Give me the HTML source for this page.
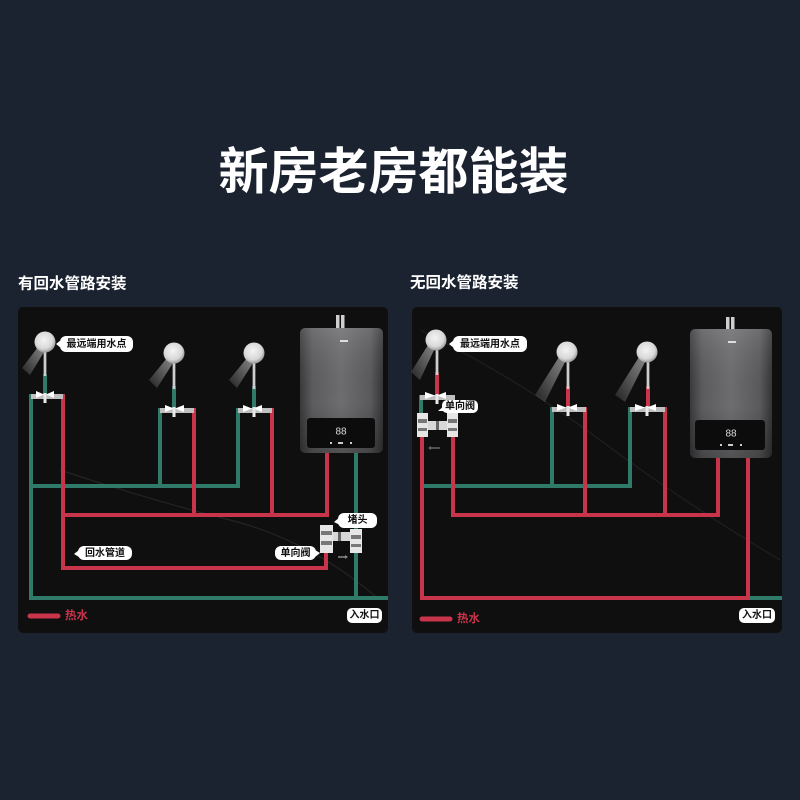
<!DOCTYPE html>
<html><head><meta charset="utf-8"><style>
html,body{margin:0;padding:0;background:#1b2230;}
svg{display:block;}
text{font-family:"Liberation Sans","Noto Sans CJK SC",sans-serif;}
</style></head><body>
<svg width="800" height="800" viewBox="0 0 800 800" xmlns="http://www.w3.org/2000/svg">
<defs>
<linearGradient id="hb" x1="0" y1="0" x2="1" y2="0">
<stop offset="0" stop-color="#3a3a3c"/><stop offset="0.15" stop-color="#5c5c5e"/><stop offset="0.5" stop-color="#6e6e70"/><stop offset="0.85" stop-color="#5a5a5c"/><stop offset="1" stop-color="#353537"/>
</linearGradient>
<linearGradient id="hv" x1="0" y1="0" x2="0" y2="1">
<stop offset="0" stop-color="#fff" stop-opacity="0.12"/><stop offset="0.6" stop-color="#000" stop-opacity="0"/><stop offset="1" stop-color="#000" stop-opacity="0.25"/>
</linearGradient>
<radialGradient id="sh" cx="0.45" cy="0.4" r="0.6">
<stop offset="0" stop-color="#f4f4f4"/><stop offset="0.7" stop-color="#d8d8d8"/><stop offset="1" stop-color="#9a9a9a"/>
</radialGradient>
<linearGradient id="sp" x1="1" y1="0" x2="0" y2="1">
<stop offset="0" stop-color="#ffffff" stop-opacity="0.9"/><stop offset="1" stop-color="#ffffff" stop-opacity="0.15"/>
</linearGradient>
<linearGradient id="ms" x1="0" y1="0" x2="1" y2="0">
<stop offset="0" stop-color="#8a8a8a"/><stop offset="0.5" stop-color="#f0f0f0"/><stop offset="1" stop-color="#8a8a8a"/>
</linearGradient>
</defs>

<rect width="800" height="800" fill="#1b2230"/>
<text x="393.5" y="172" font-size="50" font-weight="bold" fill="#fff" text-anchor="middle" dominant-baseline="central">新房老房都能装</text>

<text x="18" y="284" font-size="15.5" font-weight="bold" fill="#fff" dominant-baseline="central">有回水管路安装</text>
<text x="410" y="283" font-size="15.5" font-weight="bold" fill="#fff" dominant-baseline="central">无回水管路安装</text>

<!-- panels -->
<rect x="18" y="307" width="370" height="326" rx="5" fill="#0f0f10"/>
<rect x="412" y="307" width="370" height="326" rx="5" fill="#0f0f10"/>
<path d="M60 470 Q150 500 230 520 T380 600" stroke="#232325" stroke-width="1.2" fill="none"/>
<path d="M420 330 Q520 380 600 440 T780 560" stroke="#1f1f21" stroke-width="1.2" fill="none"/>

<!-- ===== LEFT PANEL PIPES ===== -->
<g fill="none" stroke-width="4" stroke-linecap="square">
<g stroke="#2f7a68">
<path d="M31 396 V598 H386"/>
<path d="M31 486 H238"/>
<path d="M160 410 V486"/>
<path d="M238 410 V486"/>
<path d="M356 452 V598"/>
<path d="M45 376 V396"/>
<path d="M174 388 V410"/>
<path d="M254 388 V410"/>
</g>
<g stroke="#c8354b">
<path d="M63 396 V568 H326 V552"/>
<path d="M63 515 H327 V454"/>
<path d="M194 410 V515"/>
<path d="M272 410 V515"/>
</g>
</g>

<!-- ===== RIGHT PANEL PIPES ===== -->
<g fill="none" stroke-width="4" stroke-linecap="square">
<g stroke="#2f7a68">
<path d="M421 397 V413"/>
<path d="M423 486 H630"/>
<path d="M552 409 V486"/>
<path d="M630 409 V486"/>
<path d="M750 598 H780"/>
</g>
<g stroke="#c8354b">
<path d="M437 374 V397"/>
<path d="M568 388 V409"/>
<path d="M648 388 V409"/>
<path d="M453 397 V413"/>
<path d="M422 437 V598 H748 V460"/>
<path d="M453 437 V515 H718 V460"/>
<path d="M585 409 V515"/>
<path d="M665 409 V515"/>
</g>
</g>

<!-- valves -->
<g>
<g>
<rect x="31" y="394" width="32" height="5" fill="#bfbfbf"/>
<path d="M36 391 L44 394.5 L36 398 Z M54 391 L46 394.5 L54 398 Z" fill="#fff"/>
<rect x="43.5" y="393" width="3" height="10" fill="#e8e8e8"/>
</g>
<g>
<rect x="160" y="408" width="34" height="5" fill="#bfbfbf"/>
<path d="M165 405 L174 408.5 L165 412 Z M184 405 L175 408.5 L184 412 Z" fill="#fff"/>
<rect x="172.5" y="407" width="3" height="10" fill="#e8e8e8"/>
</g>
<g>
<rect x="238" y="408" width="34" height="5" fill="#bfbfbf"/>
<path d="M243 405 L252 408.5 L243 412 Z M262 405 L253 408.5 L262 412 Z" fill="#fff"/>
<rect x="252.5" y="407" width="3" height="10" fill="#e8e8e8"/>
</g>
<g>
<rect x="420" y="395" width="35" height="5" fill="#bfbfbf"/>
<path d="M425 392 L435 395.5 L425 399 Z M446 392 L437 395.5 L446 399 Z" fill="#fff"/>
<rect x="435.5" y="394" width="3" height="10" fill="#e8e8e8"/>
</g>
<g>
<rect x="552" y="407" width="34" height="5" fill="#bfbfbf"/>
<path d="M557 404 L566 407.5 L557 411 Z M577 404 L568 407.5 L577 411 Z" fill="#fff"/>
<rect x="566.5" y="406" width="3" height="10" fill="#e8e8e8"/>
</g>
<g>
<rect x="630" y="407" width="35" height="5" fill="#bfbfbf"/>
<path d="M635 404 L645 407.5 L635 411 Z M656 404 L647 407.5 L656 411 Z" fill="#fff"/>
<rect x="645.5" y="406" width="3" height="10" fill="#e8e8e8"/>
</g>
</g>

<!-- shower heads -->
<g>
<!-- L1 -->
<path d="M38 347 L22 368 L30 375 L44 352 Z" fill="url(#sp)" opacity="0.55"/>
<rect x="43.5" y="348" width="3" height="28" fill="url(#ms)"/>
<circle cx="45" cy="342" r="10.5" fill="url(#sh)"/>
<!-- L2 -->
<path d="M167 358 L149 380 L157 388 L173 363 Z" fill="url(#sp)" opacity="0.55"/>
<rect x="172.5" y="359" width="3" height="30" fill="url(#ms)"/>
<circle cx="174" cy="353" r="10.5" fill="url(#sh)"/>
<!-- L3 -->
<path d="M247 358 L229 380 L237 388 L253 363 Z" fill="url(#sp)" opacity="0.55"/>
<rect x="252.5" y="359" width="3" height="30" fill="url(#ms)"/>
<circle cx="254" cy="353" r="10.5" fill="url(#sh)"/>
<!-- R1 -->
<path d="M428 345 L411 372 L420 380 L434 350 Z" fill="url(#sp)" opacity="0.55"/>
<rect x="435.5" y="346" width="3" height="29" fill="url(#ms)"/>
<circle cx="436" cy="340" r="10.5" fill="url(#sh)"/>
<!-- R2 -->
<path d="M559 357 L535 395 L545 402 L565 362 Z" fill="url(#sp)" opacity="0.55"/>
<rect x="566.5" y="358" width="3" height="31" fill="url(#ms)"/>
<circle cx="567" cy="352" r="10.5" fill="url(#sh)"/>
<!-- R3 -->
<path d="M639 357 L615 395 L625 402 L645 362 Z" fill="url(#sp)" opacity="0.55"/>
<rect x="646.5" y="358" width="3" height="31" fill="url(#ms)"/>
<circle cx="647" cy="352" r="10.5" fill="url(#sh)"/>
</g>

<!-- heaters -->
<g>
<rect x="336" y="315" width="3.5" height="14" fill="#cfcfcf"/>
<rect x="341" y="315" width="3.5" height="14" fill="#cfcfcf"/>
<rect x="300" y="328" width="83" height="125" rx="5" fill="url(#hb)"/>
<rect x="300" y="328" width="83" height="125" rx="5" fill="url(#hv)"/>
<rect x="340" y="340" width="8" height="2" fill="#ddd"/>
<rect x="307" y="418" width="68" height="30" rx="3" fill="#0c0c0d"/>
<text x="341" y="432" font-size="10" fill="#ddd" text-anchor="middle" dominant-baseline="central">88</text>
<g fill="#ccc"><rect x="330" y="442" width="2" height="2"/><rect x="338" y="442" width="5" height="2"/><rect x="350" y="442" width="2" height="2"/></g>

<rect x="726" y="317" width="3.5" height="13" fill="#cfcfcf"/>
<rect x="731" y="317" width="3.5" height="13" fill="#cfcfcf"/>
<rect x="690" y="329" width="82" height="129" rx="5" fill="url(#hb)"/>
<rect x="690" y="329" width="82" height="129" rx="5" fill="url(#hv)"/>
<rect x="728" y="341" width="8" height="2" fill="#ddd"/>
<rect x="695" y="420" width="70" height="30" rx="3" fill="#0c0c0d"/>
<text x="731" y="434" font-size="10" fill="#ddd" text-anchor="middle" dominant-baseline="central">88</text>
<g fill="#ccc"><rect x="720" y="444" width="2" height="2"/><rect x="728" y="444" width="5" height="2"/><rect x="740" y="444" width="2" height="2"/></g>
</g>

<!-- check valve assemblies -->
<g>
<rect x="320" y="525" width="13" height="28" fill="#e6e6e6"/>
<rect x="321" y="531" width="11" height="4" fill="#777"/>
<rect x="321" y="541" width="11" height="4" fill="#777"/>
<rect x="333" y="532" width="17" height="9" fill="#d8d8d8"/>
<rect x="338" y="532" width="3" height="9" fill="#666"/>
<rect x="350" y="529" width="12" height="24" fill="#e6e6e6"/>
<rect x="351" y="535" width="10" height="4" fill="#777"/>
<rect x="351" y="544" width="10" height="3" fill="#777"/>
<path d="M338 557 H346" stroke="#888" stroke-width="1.5"/>
<path d="M345 555 L348 557 L345 559 Z" fill="#888"/>

<rect x="417" y="413" width="11" height="24" fill="#e6e6e6"/>
<rect x="418" y="419" width="9" height="4" fill="#777"/>
<rect x="418" y="428" width="9" height="3" fill="#777"/>
<rect x="428" y="421" width="19" height="9" fill="#d8d8d8"/>
<rect x="436" y="421" width="3" height="9" fill="#666"/>
<rect x="447" y="413" width="11" height="24" fill="#e6e6e6"/>
<rect x="448" y="419" width="9" height="4" fill="#777"/>
<rect x="448" y="428" width="9" height="3" fill="#777"/>
<path d="M430 448 H440" stroke="#666" stroke-width="1.5"/>
<path d="M431 446 L428 448 L431 450 Z" fill="#666"/>
</g>

<!-- labels -->
<g font-size="10" font-weight="bold" fill="#111">
<rect x="60" y="336" width="73" height="16" rx="6" fill="#fff"/>
<path d="M61 340 L56 344 L61 348 Z" fill="#fff"/>
<text x="96.5" y="344.5" text-anchor="middle" dominant-baseline="central">最远端用水点</text>

<rect x="453" y="336" width="74" height="16" rx="6" fill="#fff"/>
<path d="M454 340 L449 344 L454 348 Z" fill="#fff"/>
<text x="490" y="344.5" text-anchor="middle" dominant-baseline="central">最远端用水点</text>

<rect x="78" y="546" width="54" height="14" rx="6" fill="#fff"/>
<path d="M79 550 L74 554 L79 557 Z" fill="#fff"/>
<text x="105" y="553.5" text-anchor="middle" dominant-baseline="central">回水管道</text>

<rect x="275" y="546" width="41" height="14" rx="6" fill="#fff"/>
<path d="M315 550 L320 553 L315 557 Z" fill="#fff"/>
<text x="295.5" y="553.5" text-anchor="middle" dominant-baseline="central">单向阀</text>

<rect x="338" y="513" width="39" height="15" rx="6" fill="#fff"/>
<path d="M340 517 L334 522 L340 525 Z" fill="#fff"/>
<text x="357.5" y="520.5" text-anchor="middle" dominant-baseline="central">堵头</text>

<rect x="442" y="400" width="36" height="13" rx="5" fill="#fff"/>
<path d="M444 406 L438 411 L446 411 Z" fill="#fff"/>
<text x="460" y="406.5" text-anchor="middle" dominant-baseline="central">单向阀</text>

<rect x="347" y="608" width="35" height="15" rx="5" fill="#fff"/>
<text x="364.5" y="615.5" text-anchor="middle" dominant-baseline="central">入水口</text>

<rect x="739" y="608" width="36" height="15" rx="5" fill="#fff"/>
<text x="757" y="615.5" text-anchor="middle" dominant-baseline="central">入水口</text>
</g>

<!-- legends -->
<line x1="30" y1="616" x2="58" y2="616" stroke="#c8354b" stroke-width="5" stroke-linecap="round"/>
<text x="65" y="616" font-size="11.5" font-weight="bold" fill="#c8354b" dominant-baseline="central">热水</text>
<line x1="422" y1="619" x2="450" y2="619" stroke="#c8354b" stroke-width="5" stroke-linecap="round"/>
<text x="457" y="619" font-size="11.5" font-weight="bold" fill="#c8354b" dominant-baseline="central">热水</text>
</svg>
</body></html>
